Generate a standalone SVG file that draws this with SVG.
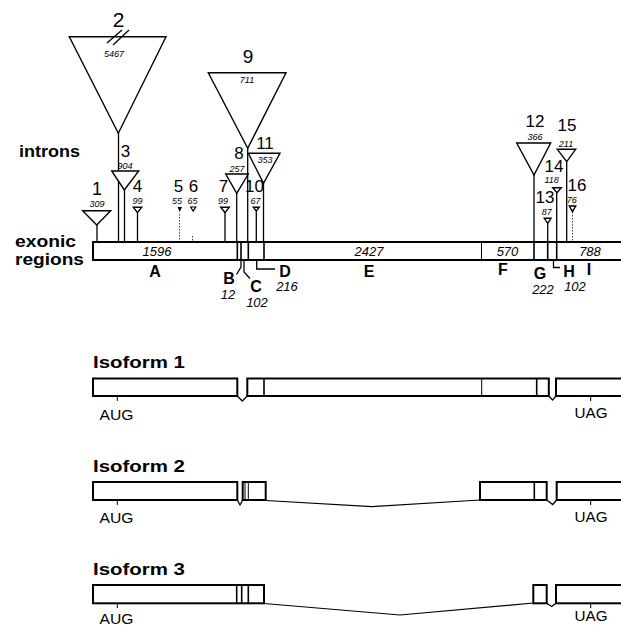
<svg xmlns="http://www.w3.org/2000/svg" width="621" height="627" viewBox="0 0 621 627">
<style>
text{font-family:"Liberation Sans",Arial,sans-serif;fill:#000}
.hd{font-weight:bold;font-size:17px}
.iso{font-weight:bold;font-size:17px}
.n{font-size:17px;text-anchor:middle}
.s{font-size:9px;font-style:italic;text-anchor:middle}
.e{font-size:13px;font-style:italic;text-anchor:middle}
.L{font-size:16px;font-weight:bold;text-anchor:middle}
.c{font-size:14px;text-anchor:middle}
.tri{fill:#fff;stroke:#000;stroke-width:1.4}
.ln{stroke:#000;stroke-width:1.3;fill:none}
.dot{stroke:#444;stroke-width:1;stroke-dasharray:1.5 1.5;fill:none}
.bar{fill:#fff;stroke:#000;stroke-width:2}
.dv{stroke:#000;stroke-width:1.6}
.thin{stroke:#000;stroke-width:1}
.intr{stroke:#000;stroke-width:1.2;fill:none}
</style>

<text class="hd" x="19" y="157" textLength="61" lengthAdjust="spacingAndGlyphs">introns</text>
<text class="hd" x="15" y="247" textLength="61" lengthAdjust="spacingAndGlyphs">exonic</text>
<text class="hd" x="15" y="265" textLength="69" lengthAdjust="spacingAndGlyphs">regions</text>

<g id="connectors">
<line class="ln" x1="97" y1="225" x2="97" y2="242"/>
<line class="ln" x1="118.5" y1="133" x2="118.5" y2="242"/>
<line class="ln" x1="124.5" y1="190" x2="124.5" y2="242"/>
<line class="ln" x1="137.5" y1="212.5" x2="137.5" y2="242"/>
<line class="dot" x1="179.5" y1="214" x2="179.5" y2="242"/>
<line class="dot" x1="192.5" y1="236" x2="192.5" y2="242"/>
<line class="ln" x1="225" y1="212.5" x2="225" y2="242"/>
<line class="ln" x1="236.7" y1="193" x2="236.7" y2="242"/>
<line class="ln" x1="247.7" y1="148" x2="247.7" y2="242"/>
<line class="ln" x1="256.3" y1="211" x2="256.3" y2="242"/>
<line class="ln" x1="263.5" y1="183" x2="263.5" y2="242"/>
<line class="ln" x1="534" y1="175" x2="534" y2="242"/>
<line class="ln" x1="547.7" y1="223.3" x2="547.7" y2="242"/>
<line class="ln" x1="556.7" y1="192.7" x2="556.7" y2="242"/>
<line class="ln" x1="566.7" y1="161.7" x2="566.7" y2="242"/>
<line class="dot" x1="572.5" y1="212" x2="572.5" y2="242"/>
<polyline class="ln" points="241,260 241,267 236.5,274.5"/>
<polyline class="ln" points="244,260 244,272 250,278.5"/>
<polyline class="ln" points="256.7,260 256.7,269 275,269"/>
<polyline class="ln" points="553.5,260 553.5,267.5 560,267.5"/>
</g>

<g id="intron1"><polygon class="tri" points="82.7,210.7 110.7,210.7 96.7,225"/><text class="n" x="97" y="195" style="font-size:18px">1</text><text class="s" x="97" y="207">309</text></g>
<g id="intron2"><polygon class="tri" points="69.3,36.7 166,36.7 118.3,133.3"/><text class="n" x="118.5" y="27" style="font-size:21px">2</text><line class="ln" x1="107" y1="43" x2="122" y2="30"/><line class="ln" x1="113" y1="45" x2="129" y2="30"/><text class="s" x="114" y="56.5">5467</text></g>
<g id="intron3"><polygon class="tri" points="111.7,171 138.7,171 124.3,190"/><text class="n" x="125.5" y="157">3</text><text class="s" x="125" y="168.5">904</text></g>
<g id="intron4"><polygon class="tri" points="133.3,207.3 141.7,207.3 137.5,212.7"/><text class="n" x="137.5" y="192">4</text><text class="s" x="137.5" y="204">99</text></g>
<g id="intron5"><polygon points="177.5,207 182,207 179.7,212" fill="#000"/><text class="n" x="178.5" y="192">5</text><text class="s" x="177" y="204">55</text></g>
<g id="intron6"><polygon class="tri" points="190.7,207 195.7,207 193.2,211" style="stroke-width:1.2"/><text class="n" x="193.5" y="192">6</text><text class="s" x="192.5" y="204">65</text></g>
<g id="intron7"><polygon class="tri" points="220.7,207.3 229.3,207.3 225,212.7"/><text class="n" x="223.5" y="192">7</text><text class="s" x="223" y="204">99</text></g>
<g id="intron8"><polygon class="tri" points="225.7,174 248.3,174 236.7,193.3"/><text class="n" x="239" y="159">8</text><text class="s" x="237" y="171.5">257</text></g>
<g id="intron9"><polygon class="tri" points="208.3,72.7 286,72.7 247.7,148.3"/><text class="n" x="248" y="63" style="font-size:19px">9</text><text class="s" x="247" y="83">711</text></g>
<g id="intron10"><polygon class="tri" points="253.3,207.3 259.3,207.3 256.3,211"/><text class="n" x="254.5" y="192">10</text><text class="s" x="255.5" y="204">67</text></g>
<g id="intron11"><polygon class="tri" points="248.3,153.3 280,153.3 263.5,183.3"/><text class="n" x="265" y="149">11</text><text class="s" x="265" y="163">353</text></g>
<g id="intron12"><polygon class="tri" points="516.7,143 550.7,143 534,175"/><text class="n" x="535" y="127">12</text><text class="s" x="535" y="140">366</text></g>
<g id="intron13"><polygon class="tri" points="544.3,218.3 551,218.3 547.7,223.3"/><text class="n" x="545" y="203">13</text><text class="s" x="546.7" y="215">87</text></g>
<g id="intron14"><polygon class="tri" points="552.7,187.7 561.3,187.7 557,192.7"/><text class="n" x="554" y="171.7">14</text><text class="s" x="551.7" y="183.3">118</text></g>
<g id="intron15"><polygon class="tri" points="557.3,149.3 575.7,149.3 566.7,161.7"/><text class="n" x="567" y="131">15</text><text class="s" x="566" y="146.7">211</text></g>
<g id="intron16"><polygon class="tri" points="569.3,206 575.7,206 572.5,211.7"/><text class="n" x="577" y="190.7">16</text><text class="s" x="571.7" y="203.3">76</text></g>

<g id="exon-bar">
<rect class="bar" x="93" y="242" width="540" height="18"/>
<line class="dv" x1="237.3" y1="242" x2="237.3" y2="260"/>
<line class="dv" x1="241" y1="242" x2="241" y2="260"/>
<line class="dv" x1="248.3" y1="242" x2="248.3" y2="260"/>
<line class="dv" x1="264" y1="242" x2="264" y2="260"/>
<line class="thin" x1="481.5" y1="242" x2="481.5" y2="260"/>
<line class="dv" x1="534" y1="242" x2="534" y2="260"/>
<line class="dv" x1="547.7" y1="242" x2="547.7" y2="260"/>
<line class="dv" x1="556.7" y1="242" x2="556.7" y2="260"/>
<text class="e" x="157" y="256">1596</text>
<text class="e" x="369" y="256">2427</text>
<text class="e" x="507.5" y="255.5">570</text>
<text class="e" x="590" y="255.5">788</text>
<text class="L" x="155" y="277">A</text>
<text class="L" x="229" y="284">B</text>
<text class="e" x="228" y="299">12</text>
<text class="L" x="256" y="292">C</text>
<text class="e" x="257" y="307">102</text>
<text class="L" x="285" y="277">D</text>
<text class="e" x="287" y="291">216</text>
<text class="L" x="369" y="277">E</text>
<text class="L" x="503" y="275">F</text>
<text class="L" x="540" y="279">G</text>
<text class="e" x="543" y="294">222</text>
<text class="L" x="569" y="277">H</text>
<text class="e" x="575" y="291">102</text>
<text class="L" x="589" y="275">I</text>
</g>

<g id="isoform1">
<text class="iso" x="93" y="368" textLength="92" lengthAdjust="spacingAndGlyphs">Isoform 1</text>
<rect class="bar" x="93" y="378.5" width="144.3" height="17.5"/>
<polyline class="ln" points="237.3,396 242.3,401 247.3,396"/>
<rect class="bar" x="247.3" y="378.5" width="301.5" height="17.5"/>
<line class="dv" x1="264" y1="378.5" x2="264" y2="396"/>
<line class="thin" x1="481.7" y1="378.5" x2="481.7" y2="396"/>
<line class="dv" x1="536.7" y1="378.5" x2="536.7" y2="396"/>
<polyline class="ln" points="548.8,396 552.5,400 556,396"/>
<rect class="bar" x="556" y="378.5" width="70" height="17.5"/>
<line class="thin" x1="117.3" y1="396" x2="117.3" y2="401"/>
<text class="c" x="116.5" y="420" textLength="34" lengthAdjust="spacingAndGlyphs">AUG</text>
<line class="thin" x1="590.7" y1="396" x2="590.7" y2="401"/>
<text class="c" x="591" y="418" textLength="33" lengthAdjust="spacingAndGlyphs">UAG</text>
</g>

<g id="isoform2">
<text class="iso" x="93" y="472" textLength="92" lengthAdjust="spacingAndGlyphs">Isoform 2</text>
<rect class="bar" x="93" y="482" width="144.3" height="18"/>
<polyline class="ln" points="237.3,500 240,505 242.7,500"/>
<rect class="bar" x="242.7" y="482" width="23" height="18"/>
<line class="thin" x1="245" y1="482" x2="245" y2="500"/>
<line class="thin" x1="248.3" y1="482" x2="248.3" y2="500"/>
<polyline class="intr" points="265.7,500.5 371.7,506.7 480,500"/>
<rect class="bar" x="480" y="482" width="66.7" height="18"/>
<line class="dv" x1="534.3" y1="482" x2="534.3" y2="500"/>
<polyline class="ln" points="546.7,500 552.7,504.5 556.7,500"/>
<rect class="bar" x="556.7" y="482" width="70" height="18"/>
<line class="thin" x1="117.3" y1="500" x2="117.3" y2="505"/>
<text class="c" x="116.5" y="523" textLength="34" lengthAdjust="spacingAndGlyphs">AUG</text>
<line class="thin" x1="590.7" y1="500" x2="590.7" y2="505"/>
<text class="c" x="591" y="522" textLength="33" lengthAdjust="spacingAndGlyphs">UAG</text>
</g>

<g id="isoform3">
<text class="iso" x="93" y="575" textLength="92" lengthAdjust="spacingAndGlyphs">Isoform 3</text>
<rect class="bar" x="93" y="585" width="171" height="18.3"/>
<line class="dv" x1="236.7" y1="585" x2="236.7" y2="603.3"/>
<line class="dv" x1="241.7" y1="585" x2="241.7" y2="603.3"/>
<line class="dv" x1="248.3" y1="585" x2="248.3" y2="603.3"/>
<polyline class="intr" points="264,603.5 400,615 533.3,603"/>
<rect class="bar" x="533.3" y="585" width="13.4" height="18.3"/>
<polyline class="ln" points="546.7,603.3 551.7,606.5 556,603.3"/>
<rect class="bar" x="556" y="585" width="70" height="18.3"/>
<line class="thin" x1="117.3" y1="603.3" x2="117.3" y2="608"/>
<text class="c" x="116.5" y="624" textLength="34" lengthAdjust="spacingAndGlyphs">AUG</text>
<line class="thin" x1="590.7" y1="603.3" x2="590.7" y2="608"/>
<text class="c" x="591" y="621" textLength="33" lengthAdjust="spacingAndGlyphs">UAG</text>
</g>
</svg>
